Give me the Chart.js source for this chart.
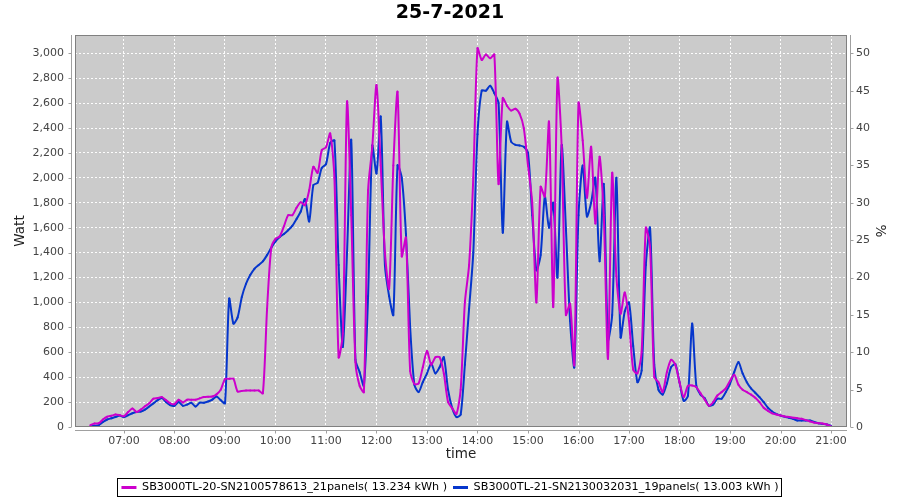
<!DOCTYPE html>
<html>
<head>
<meta charset="utf-8">
<title>25-7-2021</title>
<script src="https://cdn.jsdelivr.net/npm/chart.js@4.4.0/dist/chart.umd.min.js"></script>
<style>
  html, body { margin: 0; padding: 0; background: #fff; }
  #wrap { width: 900px; height: 500px; }
</style>
</head>
<body>
<div id="wrap"><canvas id="myChart" width="900" height="500"></canvas></div>
<script>
// chart data (5 minute samples)

const chartTitle = '25-7-2021';
const seriesNames = [
  'SB3000TL-20-SN2100578613_21panels( 13.234 kWh )',
  'SB3000TL-21-SN2130032031_19panels( 13.003 kWh )'
];
const firstSample = '06:20';
const sampleStep = 5; // minutes

// SB3000TL-20, Watt
const inverter20 = [
  15, 28, 30, 60, 82, 90, 100, 95,                                        // 06:20
  87, 120, 148, 120, 140, 167, 190, 227, 232, 240, 215, 190,              // 07
  183, 219, 197, 219, 219, 219, 230, 240, 243, 245, 262, 300,             // 08
  385, 387, 387, 285, 290, 293, 293, 293, 293, 270, 950, 1440,            // 09
  1510, 1530, 1610, 1700, 1700, 1760, 1805, 1781, 1900, 2089, 2040, 2223, // 10
  2245, 2357, 2000, 560, 750, 2611, 1700, 520, 330, 280, 1900, 2250,      // 11
  2746, 2100, 1400, 1110, 2100, 2690, 1370, 1520, 450, 345, 350, 480,     // 12
  610, 500, 560, 560, 430, 200, 150, 105, 300, 1000, 1300, 2000,          // 13
  3040, 2947, 2990, 2960, 2990, 1950, 2640, 2580, 2540, 2555, 2515, 2400, // 14
  2100, 1800, 1000, 1928, 1850, 2450, 963, 2800, 2250, 900, 990, 500,     // 15
  2600, 2300, 1840, 2250, 1634, 2170, 1700, 548, 2040, 1210, 910, 1080,   // 16
  850, 460, 430, 600, 1600, 1446, 400, 360, 280, 440, 540, 500,           // 17
  360, 240, 330, 334, 320, 270, 220, 170, 200, 253, 280, 310,             // 18
  370, 420, 340, 300, 280, 260, 235, 200, 155, 130, 110, 100,             // 19
  92, 85, 80, 75, 70, 66, 55, 45, 35, 30, 28, 20,                         // 20
  5                                                                       // 21:00
];

// SB3000TL-21, Watt
const inverter21 = [
  5, 10, 15, 40, 60, 70, 80, 92,                                          // 06:20
  80, 95, 110, 120, 125, 140, 165, 190, 215, 232, 200, 175,               // 07
  170, 200, 170, 180, 195, 165, 195, 195, 205, 220, 245, 215,             // 08
  190, 1030, 830, 880, 1044, 1150, 1220, 1270, 1300, 1330, 1380, 1440,    // 09
  1490, 1525, 1550, 1580, 1615, 1670, 1730, 1830, 1650, 1942, 1960, 2080, // 10
  2110, 2280, 2300, 1300, 642, 1400, 2304, 540, 440, 330, 1050, 2260,     // 11
  2036, 2491, 1300, 1050, 900, 2100, 2000, 1550, 800, 340, 280, 360,      // 12
  430, 510, 430, 480, 560, 300, 150, 80, 100, 500, 950, 1400,             // 13
  2350, 2700, 2700, 2740, 2680, 2600, 1560, 2450, 2290, 2265, 2260, 2250, // 14
  2200, 1700, 1258, 1380, 1850, 1600, 1800, 1200, 2263, 1600, 850, 480,   // 15
  1700, 2100, 1690, 1800, 2000, 1330, 1950, 700, 900, 2000, 720, 930,     // 16
  1000, 650, 360, 454, 1300, 1600, 500, 300, 260, 350, 480, 505,          // 17
  360, 210, 250, 830, 330, 260, 230, 170, 180, 227, 227, 280,             // 18
  347, 440, 521, 430, 360, 310, 275, 240, 200, 155, 125, 105,             // 19
  92, 82, 75, 65, 52, 52, 52, 52, 40, 30, 25, 20,                         // 20
  10                                                                      // 21:00
];

const hourTicks = ['07:00', '08:00', '09:00', '10:00', '11:00', '12:00', '13:00',
  '14:00', '15:00', '16:00', '17:00', '18:00', '19:00', '20:00', '21:00'];
const wattTicks = [0, 200, 400, 600, 800, 1000, 1200, 1400, 1600, 1800, 2000,
  2200, 2400, 2600, 2800, 3000];
const percentTicks = [0, 5, 10, 15, 20, 25, 30, 35, 40, 45, 50];

function toMinutes(hhmm) {
  const p = hhmm.split(':');
  return (+p[0]) * 60 + (+p[1]);
}
function toHHMM(min) {
  const h = Math.floor(min / 60), m = Math.round(min % 60);
  return String(h).padStart(2, '0') + ':' + String(m).padStart(2, '0');
}
function toPoints(values) {
  const start = toMinutes(firstSample);
  return values.map((v, i) => ({ x: start + i * sampleStep, y: v }));
}

const FONT = "'DejaVu Sans', Verdana, sans-serif";
const wattMax = 3147;
const plotBottom = 427;
const bottomShift = 3; // legend sits a little lower than chart.js puts it

// gray plot, offset axes and a framed legend, jfreechart style
const plotFrame = {
  id: 'plotFrame',
  beforeDraw(chart) {
    const { ctx, chartArea: a } = chart;
    ctx.save();
    ctx.fillStyle = '#ffffff';
    ctx.fillRect(0, 0, chart.width, chart.height);
    ctx.fillStyle = '#cbcbcb';
    ctx.fillRect(a.left, a.top, a.right - a.left, a.bottom - a.top);
    ctx.restore();
  },
  afterDraw(chart) {
    const { ctx, chartArea: a, scales } = chart;
    ctx.save();
    ctx.lineWidth = 1;
    ctx.strokeStyle = '#808080';
    ctx.strokeRect(a.left + 0.5, a.top + 0.5, a.right - a.left - 1, a.bottom - a.top - 1);

    const lx = Math.round(a.left) - 3.5, rx = Math.round(a.right) + 3.5, by = Math.round(a.bottom) + 3.5;
    ctx.strokeStyle = '#a0a0a0';
    ctx.beginPath();
    ctx.moveTo(lx, a.top); ctx.lineTo(lx, a.bottom);
    ctx.moveTo(rx, a.top); ctx.lineTo(rx, a.bottom);
    ctx.moveTo(a.left, by); ctx.lineTo(a.right, by);
    scales.y.ticks.forEach(t => {
      const y = Math.round(scales.y.getPixelForValue(t.value)) + 0.5;
      ctx.moveTo(lx - 3, y); ctx.lineTo(lx, y);
    });
    scales.y2.ticks.forEach(t => {
      const y = Math.round(scales.y2.getPixelForValue(t.value)) + 0.5;
      ctx.moveTo(rx, y); ctx.lineTo(rx + 3, y);
    });
    scales.x.ticks.forEach(t => {
      const x = Math.round(scales.x.getPixelForValue(t.value)) + 0.5;
      ctx.moveTo(x, by); ctx.lineTo(x, by + 3);
    });
    ctx.stroke();

    const boxes = chart.legend.legendHitBoxes;
    if (boxes && boxes.length) {
      let l = Infinity, r = -Infinity, t = Infinity, b = -Infinity;
      boxes.forEach(hb => {
        l = Math.min(l, hb.left); r = Math.max(r, hb.left + hb.width);
        t = Math.min(t, hb.top); b = Math.max(b, hb.top + hb.height);
      });
      ctx.strokeStyle = '#000000';
      ctx.strokeRect(Math.round(l) - 3.5, Math.round(t) - 3.5, Math.round(r - l) + 7, Math.round(b - t) + 7);
    }
    ctx.restore();
  }
};

const ctx = document.getElementById('myChart').getContext('2d');
const chart = new Chart(ctx, {
  type: 'line',
  data: {
    datasets: [
      {
        label: seriesNames[0],
        data: toPoints(inverter20),
        borderColor: '#cc00cc',
        backgroundColor: '#cc00cc',
        borderWidth: 2,
        pointRadius: 1,
        pointBorderWidth: 0,
        tension: 0.25,
        fill: false,
        yAxisID: 'y'
      },
      {
        label: seriesNames[1],
        data: toPoints(inverter21),
        borderColor: '#0636cc',
        backgroundColor: '#0636cc',
        borderWidth: 2,
        pointRadius: 1,
        pointBorderWidth: 0,
        tension: 0.25,
        fill: false,
        yAxisID: 'y'
      }
    ]
  },
  options: {
    responsive: false,
    animation: false,
    devicePixelRatio: 1,
    layout: { padding: { left: 0, right: 0, top: 0, bottom: -bottomShift } },
    plugins: {
      title: {
        display: true,
        text: chartTitle,
        color: '#000',
        font: { family: FONT, size: 19, weight: 'bold' },
        padding: { top: 2, bottom: 10.2 }
      },
      legend: {
        position: 'bottom',
        labels: {
          usePointStyle: true,
          pointStyle: 'line',
          pointStyleWidth: 15,
          color: '#000',
          padding: 6,
          font: { family: FONT, size: 11.2 },
          generateLabels: c => Chart.defaults.plugins.legend.labels.generateLabels(c).map(item =>
            Object.assign(item, {
              lineWidth: 3,
              strokeStyle: c.data.datasets[item.datasetIndex].borderColor
            }))
        }
      },
      tooltip: { enabled: false }
    },
    scales: {
      x: {
        type: 'linear',
        min: 361.8,
        max: 1279,
        afterBuildTicks: s => { s.ticks = hourTicks.map(h => ({ value: toMinutes(h) })); },
        afterFit: s => { s.height = 500 + bottomShift - plotBottom - s.chart.legend.height; },
        ticks: {
          color: '#444',
          font: { family: FONT, size: 11 },
          padding: 8,
          maxRotation: 0,
          autoSkip: false,
          callback: v => toHHMM(v)
        },
        grid: { color: 'rgba(255,255,255,0.95)', drawTicks: false, lineWidth: 1 },
        border: { display: false, dash: [2, 2] },
        title: {
          display: true,
          text: 'time',
          color: '#222',
          font: { family: FONT, size: 13.5 },
          padding: { top: 0, bottom: 13 }
        }
      },
      y: {
        position: 'left',
        min: 0,
        max: wattMax,
        afterBuildTicks: s => { s.ticks = wattTicks.map(v => ({ value: v })); },
        afterFit: s => { s.width = 75; },
        ticks: {
          color: '#444',
          font: { family: FONT, size: 11 },
          padding: 11,
          callback: v => v.toLocaleString('en-US')
        },
        grid: { color: 'rgba(255,255,255,0.95)', drawTicks: false, lineWidth: 1 },
        border: { display: false, dash: [2, 2] },
        title: {
          display: true,
          text: 'Watt',
          color: '#222',
          font: { family: FONT, size: 13.5 },
          padding: { top: 12, bottom: 0 }
        }
      },
      y2: {
        position: 'right',
        display: true,
        min: 0,
        max: wattMax / 60,
        afterBuildTicks: s => { s.ticks = percentTicks.map(v => ({ value: v })); },
        afterFit: s => { s.width = 53; },
        ticks: {
          color: '#444',
          font: { family: FONT, size: 11 },
          padding: 9
        },
        grid: { display: false, drawTicks: false },
        border: { display: false },
        title: {
          display: true,
          text: '%',
          color: '#222',
          font: { family: FONT, size: 13.5 },
          padding: { top: 12, bottom: 0 }
        }
      }
    }
  },
  plugins: [plotFrame]
});
</script>
</body>
</html>
